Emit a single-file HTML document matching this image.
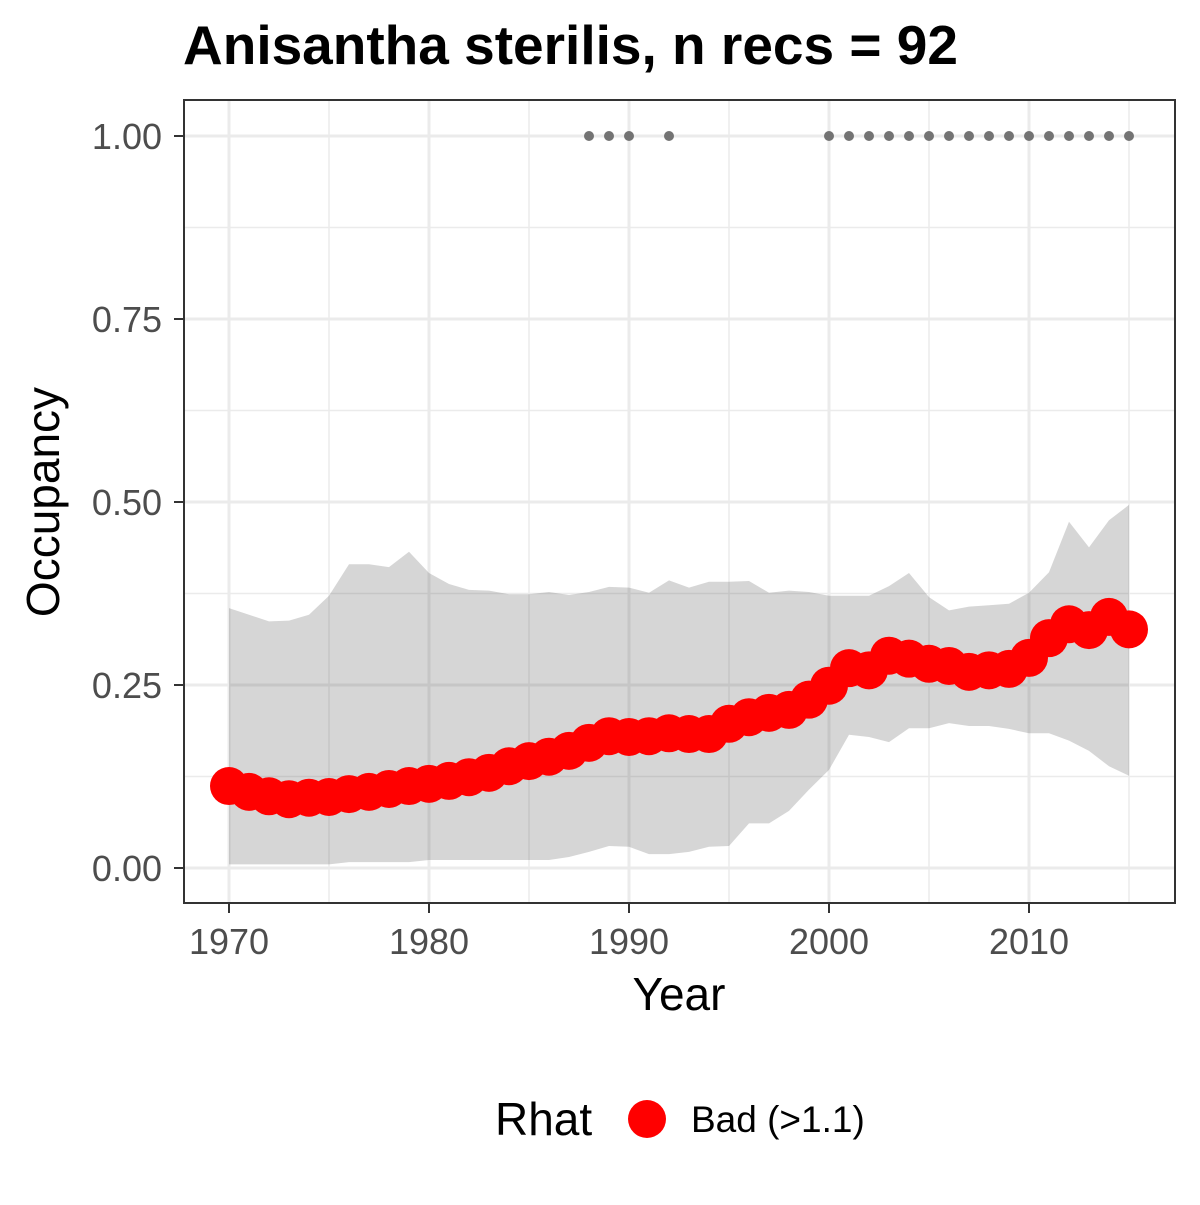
<!DOCTYPE html>
<html><head><meta charset="utf-8"><style>
body{margin:0;background:#fff;}
svg text{font-family:"Liberation Sans",Arial,sans-serif;}
</style></head><body>
<svg width="1200" height="1200" xmlns="http://www.w3.org/2000/svg">
<rect width="1200" height="1200" fill="#fff"/>
<text x="183" y="64" font-size="55" font-weight="bold" fill="#000">Anisantha sterilis, n recs = 92</text>
<g id="grid"></g>
<g id="band"></g>
<g id="recs"></g>
<g id="pts"></g>
<rect x="184" y="100" width="991" height="803" fill="none" stroke="#333" stroke-width="2"/>
<g id="axes"></g>
<text x="679" y="1010" font-size="46" text-anchor="middle" fill="#000">Year</text>
<text transform="translate(59,502) rotate(-90)" font-size="46" text-anchor="middle" fill="#000">Occupancy</text>
<g>
<text x="495" y="1135" font-size="46" fill="#000">Rhat</text>
<circle cx="647" cy="1119" r="19" fill="#ff0000"/>
<text x="691" y="1132" font-size="37" fill="#000">Bad (&gt;1.1)</text>
</g>
</svg>
<script>
const years=[1970,1971,1972,1973,1974,1975,1976,1977,1978,1979,1980,1981,1982,1983,1984,1985,1986,1987,1988,1989,1990,1991,1992,1993,1994,1995,1996,1997,1998,1999,2000,2001,2002,2003,2004,2005,2006,2007,2008,2009,2010,2011,2012,2013,2014,2015];
const occupancy=[0.112,0.104,0.098,0.094,0.096,0.097,0.101,0.104,0.108,0.112,0.115,0.119,0.124,0.130,0.139,0.146,0.152,0.160,0.171,0.180,0.179,0.180,0.184,0.183,0.183,0.197,0.206,0.212,0.216,0.230,0.249,0.273,0.270,0.290,0.286,0.279,0.276,0.268,0.270,0.272,0.287,0.314,0.333,0.325,0.343,0.326];
const upper=[0.355,0.346,0.337,0.338,0.346,0.372,0.415,0.415,0.411,0.432,0.403,0.388,0.380,0.379,0.374,0.374,0.377,0.373,0.377,0.384,0.383,0.376,0.393,0.383,0.391,0.391,0.392,0.376,0.379,0.377,0.372,0.372,0.372,0.385,0.403,0.370,0.352,0.357,0.359,0.361,0.376,0.404,0.473,0.438,0.475,0.496];
const lower=[0.005,0.005,0.005,0.005,0.005,0.005,0.008,0.008,0.008,0.008,0.011,0.011,0.011,0.011,0.011,0.011,0.011,0.015,0.022,0.030,0.029,0.019,0.019,0.022,0.029,0.030,0.061,0.061,0.078,0.107,0.134,0.182,0.179,0.172,0.191,0.191,0.198,0.194,0.194,0.190,0.184,0.184,0.174,0.160,0.139,0.126];
const recYears=[1988,1989,1990,1992,2000,2001,2002,2003,2004,2005,2006,2007,2008,2009,2010,2011,2012,2013,2014,2015];
const xTicks=[1970,1980,1990,2000,2010];
const yTicks=[0,0.25,0.5,0.75,1];
const yLabels=["0.00","0.25","0.50","0.75","1.00"];
const NS="http://www.w3.org/2000/svg";
const X=y=>229+(y-1970)*20;
const Y=v=>868-v*732;
function mk(p,t,a){const e=document.createElementNS(NS,t);for(const k in a)e.setAttribute(k,a[k]);p.appendChild(e);return e;}
const grid=document.getElementById('grid');
mk(grid,'rect',{x:184,y:100,width:991,height:803,fill:'#fff'});
for(let i=0;i<yTicks.length-1;i++){const v=(yTicks[i]+yTicks[i+1])/2;const l=mk(grid,'line',{x1:184,x2:1175,y1:Y(v),y2:Y(v),stroke:'#ebebeb','stroke-width':1.5});}
for(let i=0;i<xTicks.length;i++){const v=xTicks[i]+5;const l=mk(grid,'line',{x1:X(v),x2:X(v),y1:100,y2:903,stroke:'#ebebeb','stroke-width':1.5});}
yTicks.forEach(v=>{const l=mk(grid,'line',{x1:184,x2:1175,y1:Y(v),y2:Y(v),stroke:'#ebebeb','stroke-width':3});});
xTicks.forEach(v=>{const l=mk(grid,'line',{x1:X(v),x2:X(v),y1:100,y2:903,stroke:'#ebebeb','stroke-width':3});});
let d='';years.forEach((y,i)=>{d+=(i?'L':'M')+X(y)+','+Y(upper[i]);});
for(let i=years.length-1;i>=0;i--)d+='L'+X(years[i])+','+Y(lower[i]);
const band=mk(document.getElementById('band'),'path',{d:d+'Z',fill:'rgba(51,51,51,0.2)'});


recYears.forEach(y=>{const c=mk(document.getElementById('recs'),'circle',{cx:X(y),cy:Y(1),r:5,fill:'#737373'});});
years.forEach((y,i)=>{const c=mk(document.getElementById('pts'),'circle',{cx:X(y),cy:Y(occupancy[i]),r:19,fill:'#ff0000'});});
const ax=document.getElementById('axes');
xTicks.forEach(v=>{const t=mk(ax,'line',{x1:X(v),x2:X(v),y1:903,y2:913,stroke:'#333','stroke-width':2});
const tx=mk(ax,'text',{x:X(v),y:954,'font-size':36,'text-anchor':'middle',fill:'#4d4d4d'});tx.textContent=v;});
yTicks.forEach((v,i)=>{const t=mk(ax,'line',{x1:174,x2:184,y1:Y(v),y2:Y(v),stroke:'#333','stroke-width':2});
const tx=mk(ax,'text',{x:162,y:Y(v)+13,'font-size':36,'text-anchor':'end',fill:'#4d4d4d'});tx.textContent=yLabels[i];});
</script>
</body></html>
